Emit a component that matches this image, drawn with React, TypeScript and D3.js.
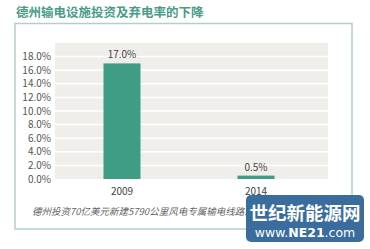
import React from "react";
import * as d3 from "d3";

const title = "德州输电设施投资及弃电率的下降";
const categories = ["2009", "2014"];
const values = [17.0, 0.5];
const yTicks = [0, 2, 4, 6, 8, 10, 12, 14, 16, 18];
const footnote = "德州投资70亿美元新建5790公里风电专属输电线路之后";
const watermarkMain = "世纪新能源网";
const watermarkSub = "www.NE21.com";

export default function App() {
  const W = 370, H = 249;
  const plotL = 55, plotR = 328, plotT = 43, plotB = 179;
  const y = d3.scaleLinear().domain([0, 20]).range([plotB, plotT]);
  const x = d3.scalePoint().domain(categories).range([122, 256]);
  const bw = 37;
  const font = "'Noto Sans CJK SC', 'Noto Sans', sans-serif";
  return (
    <svg width={W} height={H} style={{ position: "absolute", left: 0, top: 0, background: "#fff" }} fontFamily={font}>
      <rect x={0} y={0} width={W} height={H} fill="#fff" />
      <text x={16} y={17} fontSize={12.5} fontWeight="bold" fill="#4a9c88">{title}</text>
      <rect x={15} y={23.5} width={337} height={205.5} fill="none" stroke="#b3cfca" strokeWidth={1.5} />
      <rect x={plotL} y={plotT} width={plotR - plotL} height={plotB - plotT} fill="#efeeea" />
      {yTicks.map((t) => (
        <g key={t}>
          {t > 0 && <line x1={plotL} x2={plotR} y1={y(t)} y2={y(t)} stroke="#fff" strokeWidth={1.5} />}
          <text x={51} y={y(t) + 3.5} fontSize={10} fill="#555" textAnchor="end">{t.toFixed(1) + "%"}</text>
        </g>
      ))}
      {categories.map((c, i) => (
        <g key={c}>
          <rect x={x(c)! - bw / 2} y={y(values[i])} width={bw} height={plotB - y(values[i])} fill="#3f9c85" />
          <text x={x(c)!} y={y(values[i]) - 5} fontSize={10} fill="#444" textAnchor="middle">{values[i].toFixed(1) + "%"}</text>
          <text x={x(c)!} y={195} fontSize={10} fill="#444" textAnchor="middle">{c}</text>
        </g>
      ))}
      <text x={32} y={215} fontSize={9.5} fontStyle="italic" fill="#666">{footnote}</text>
      <rect x={246} y={195} width={118} height={47} rx={5} fill="#3a6d9e" />
      <text x={305} y={220} fontSize={18.5} fontWeight="bold" fill="#fff" textAnchor="middle">{watermarkMain}</text>
      <text x={305} y={237} fontSize={12.5} fill="#fff" textAnchor="middle" fontFamily="'DejaVu Sans', sans-serif">
        <tspan>www.</tspan><tspan fontWeight="bold">NE21</tspan><tspan>.com</tspan>
      </text>
    </svg>
  );
}
